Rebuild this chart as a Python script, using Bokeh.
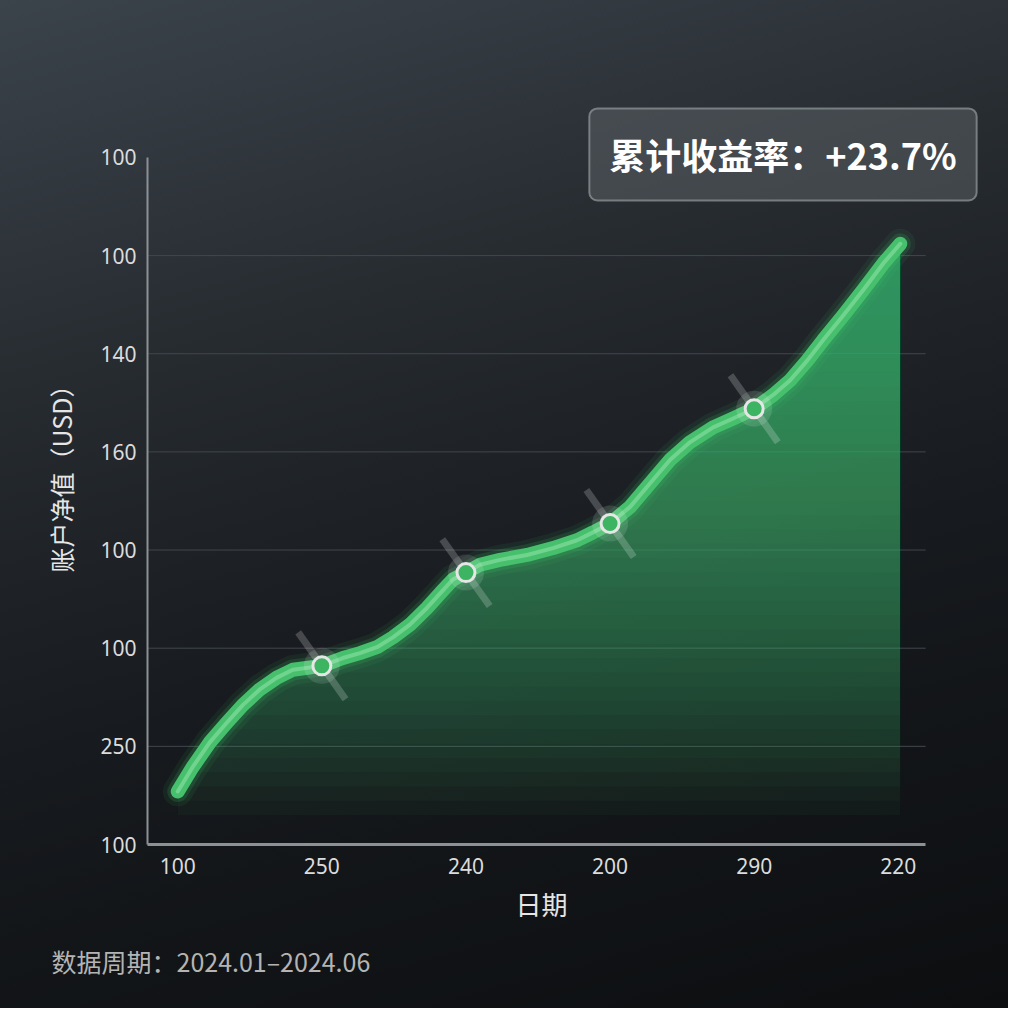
from bokeh.plotting import figure
from bokeh.models import FixedTicker, Label, Title, Range1d
from bokeh.embed import file_html
from bokeh.resources import INLINE

# ---- data ----
x_ticks = [0, 1, 2, 3, 4, 5]
x_tick_labels = ["100", "250", "240", "200", "290", "220"]
y_ticks = [0, 1, 2, 3, 4, 5, 6, 7]
y_tick_labels = ["100", "250", "100", "100", "160", "140", "100", "100"]

curve_x = [0.0, 0.104, 0.222, 0.340, 0.451, 0.569, 0.688, 0.799, 1.0, 1.146, 1.264,
           1.382, 1.493, 1.611, 1.729, 1.840, 1.910, 2.0, 2.097, 2.236, 2.424, 2.604,
           2.771, 2.882, 3.0, 3.139, 3.278, 3.417, 3.556, 3.715, 3.854, 4.0, 4.132,
           4.250, 4.368, 4.479, 4.618, 4.757, 4.896, 5.014]
curve_y = [0.54, 0.79, 1.04, 1.24, 1.42, 1.58, 1.70, 1.78, 1.82, 1.90, 1.95,
           2.01, 2.11, 2.24, 2.41, 2.59, 2.70, 2.77, 2.85, 2.90, 2.95, 3.02,
           3.10, 3.18, 3.27, 3.44, 3.68, 3.92, 4.10, 4.25, 4.34, 4.44, 4.58,
           4.73, 4.93, 5.14, 5.39, 5.65, 5.92, 6.12]
marker_x = [1.0, 2.0, 3.0, 4.0]
marker_y = [1.82, 2.77, 3.27, 4.44]

title_text = "累计收益率：+23.7%"
x_label = "日期"
y_label = "账户净值（USD）"
footer_text = "数据周期：2024.01–2024.06"

CJK = "Noto Sans CJK SC"

X_AXIS_BOUNDS = (-0.21, 5.19)
Y_AXIS_BOUNDS = (0, 7)

p = figure(width=1008, height=1008, output_backend="svg", toolbar_location=None,
           x_range=Range1d(-0.21, 5.64), y_range=Range1d(0, 7.58),
           min_border_left=147, min_border_right=18, min_border_top=100,
           min_border_bottom=164)

p.background_fill_alpha = 0
p.border_fill_alpha = 0
p.outline_line_color = None
p.styles = {"background-image":
            "linear-gradient(165deg, #3b434b 0%, #272c31 30%, #171a1e 60%, #0c0e10 100%)"}

# gridlines limited to the axis extent
p.xgrid.grid_line_color = None
p.ygrid.grid_line_color = None
gx0, gx1 = X_AXIS_BOUNDS
for t in y_ticks[1:-1]:
    p.line([gx0, gx1], [t, t], line_color="#41474d", line_width=1)

# gradient fill under curve (stacked translucent layers)
N = 40
top = max(curve_y)
for k in range(N):
    base = 0.3 + k * (top - 0.3) / N
    lower = [min(base, v) for v in curve_y]
    p.varea(x=curve_x, y1=lower, y2=curve_y, fill_color="#45b56c", fill_alpha=0.042)

# glow + line
p.line(curve_x, curve_y, line_color="#3fcf6a", line_width=30, line_alpha=0.08, line_cap="round", line_join="round")
p.line(curve_x, curve_y, line_color="#3fcf6a", line_width=21, line_alpha=0.15, line_cap="round", line_join="round")
p.line(curve_x, curve_y, line_color="#47c06d", line_width=14, line_cap="round", line_join="round")
p.line(curve_x, curve_y, line_color="#92e4aa", line_width=4, line_alpha=0.55, line_cap="round", line_join="round")

# glare behind markers
p.scatter(marker_x, marker_y, marker="dash", size=82, angle=-0.955, line_color="#ffffff",
          line_alpha=0.2, line_width=7)
p.scatter(marker_x, marker_y, marker="circle", size=36, fill_color="#ffffff", fill_alpha=0.12,
          line_color=None)
p.scatter(marker_x, marker_y, marker="circle", size=18, fill_color="#3cb462",
          line_color="#e6e6e6", line_width=3)

# axes
for ax in (p.xaxis[0], p.yaxis[0]):
    ax.major_tick_line_color = None
    ax.minor_tick_line_color = None
    ax.axis_line_color = "#8c9196"
    ax.axis_line_width = 2
    ax.major_label_text_color = "#dcdcdc"
    ax.major_label_text_font = "Noto Sans"
    ax.major_label_text_font_size = "21px"
    ax.axis_label_text_color = "#e6e6e6"
    ax.axis_label_text_font = CJK
    ax.axis_label_text_font_style = "normal"

p.xaxis.bounds = X_AXIS_BOUNDS
p.yaxis.bounds = Y_AXIS_BOUNDS
p.xaxis.ticker = FixedTicker(ticks=x_ticks)
p.xaxis.major_label_overrides = {t: l for t, l in zip(x_ticks, x_tick_labels)}
p.yaxis.ticker = FixedTicker(ticks=y_ticks)
p.yaxis.major_label_overrides = {t: l for t, l in zip(y_ticks, y_tick_labels)}
p.xaxis.axis_line_width = 3
p.yaxis.axis_label = y_label
p.yaxis.axis_label_text_font_size = "25px"
p.xaxis.major_label_standoff = 7
p.yaxis.major_label_standoff = 5
p.yaxis.axis_label_standoff = 18

# x-axis title, placed under the axis extent (frame is wider than the axis)
xt = Title(text=x_label, align="left", offset=368, text_font=CJK, text_font_size="26px",
           text_font_style="normal", text_color="#e6e6e6", standoff=12)
p.add_layout(xt, "below")

# headline box
lab = Label(x=4.2, y=7.03, text=title_text,
            text_align="center", text_baseline="middle",
            text_font=CJK, text_font_size="36px", text_font_style="bold", text_color="#ffffff",
            background_fill_color="#5e6468", background_fill_alpha=0.5,
            border_line_color="#a4aaae", border_line_alpha=0.6, border_line_width=2,
            border_radius=8, padding=20)
p.add_layout(lab)

# footer
foot = Title(text=footer_text, align="left", offset=-96, text_font=CJK, text_font_size="25px",
             text_font_style="normal", text_color="#b4b4b4", standoff=26)
p.add_layout(foot, "below")

open("out.html", "w").write(file_html(p, INLINE))
